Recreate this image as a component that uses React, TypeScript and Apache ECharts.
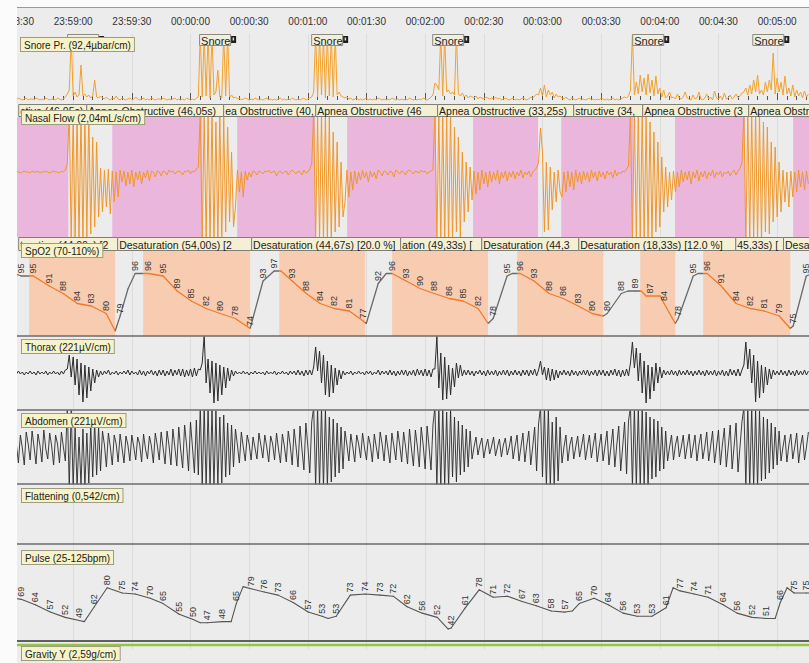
import React, { useEffect, useRef } from "react";
import * as echarts from "echarts";

// ---------- time axis (seconds relative to 00:00:00, negative = before midnight) ----------
const timeMin = -90;
const timeMax = 316.3;
const tickSeconds = 30;
const sampleStep = 1; // seconds between waveform samples

// ---------- waveform chunks: [start second, samples every sampleStep] ----------
const snoreChunks: [number, number[]][] = [
  [-90, [1,0,2,1,0,1,2,0,1,1,0,2,1,0,1,0,2,1,0,1,1,0,2,1,0,1,3]],
  [-63, [6,10,62,4,8,3,5,35,4,6,3,5,2,4,20,3,2,4]],
  [-45, [2,1,3,1,0,2,1,4,1,0,2,1,0,1,2,0,1,3,1,0,1,2,0,1,0,2,1,0,1,1,0,2,1,0,1,0,1,2,0,1,0,1,0,2,1,0,1,0,2,3]],
  [5, [66,3,66,4,66,2,66,5,8,30,3,2,66,4,66,3,5,2]],
  [23, [3,1,2,0,1,2,1,0,1,0,2,1,0,1,0,1,2,0,1,0,1,0,1,2,0,1,0,1,0,2,1,0,1,0,1,2,0,1,2,3]],
  [63, [8,66,3,66,5,66,2,66,4,66,3,66,5,8,4,3]],
  [79, [2,3,1,2,0,1,2,0,1,0,1,2,0,1,0,1,0,2,1,0,1,0,1,0,2,1,0,1,0,1,0,1,0,2,1,0,1,0,1,0,2,1,0,1,3,5]],
  [125, [17,15,10,66,4,66,8,10,6,8,5,66,6,4,7,3,5,2,4]],
  [144, [3,2,4,1,3,2,1,3,2,1,2,1,3,1,2,0,1,2,1,0,1,2,0,1,0,1,2,1,0,1,3,2,4,6,5]],
  [179, [12,4,15,3,10,5,8,2,6,3,4]],
  [190, [2,1,3,1,0,2,1,0,1,2,0,1,0,1,2,0,1,0,1,0,2,1,0,1,0,1,2,0,1,0,1,2,3,2,4]],
  [225, [10,66,5,18,6,25,8,22,5,26,7,20,4,24,6,12,3,10,2]],
  [244, [4,8,2,3,1,6,2,1,3,8,2,1,0,5,1,2,8,1,0,2,6,1,3,0,9,2,1,4,0,7,1,2,5,1,3,6,2,4,7]],
  [283, [8,12,5,15,6,20,8,25,6,10,5,18,8,20,10,47,6,22,8]],
  [302, [18,5,24,6,12,4,15,3,10,4,8,2,9,3,6]],
];

const nasalChunks: [number, number[]][] = [
  [-90, [0,1,0,-1,0,1,0,0,-1,1,0,0,1,-1,0,0,1,0,-1,0,1,0,0,-1,1,0,2]],
  [-63, [8,60,-70,60,-70,60,-70,60,-70,58,-65,60,-62,35,-55,30,-45,4]],
  [-45, [-40,2,-35,3,-42,1,-30,0,-25,2]],
  [-35, [-10,1,-14,0,-12,2,-15,0,-8,1,-12,0,-6,2,-9,1,0,-5,1,0,-4,1,0,-3,2,0,1,-2,0,1,0,-3,1,0,2,-2,1,0,3,5]],
  [5, [60,-70,60,-70,60,-70,60,-70,50,-70,60,-70,55,-60,45,-50,20,-55]],
  [23, [-35,2,-20,0,-25,1,-8,0,-5,1,0,-3,1,0,-2,1,0,2,-1,0,1,-4,0,1,-2,0,1,-3,0,2,0,-2,1,0,-3,2,-1,0,3,8]],
  [63, [60,-70,60,-70,60,-70,60,-70,55,-70,40,-60,30,-55,10,-45]],
  [79, [-30,2,-25,0,-18,1,-12,0,-8,2,-6,0,-10,1,-5,0,-7,2,0,-4,1,0,-3,1,0,-5,2,0,-2,1,0,-3,1,2,0,-2,1,0,-1,2,0,1,-2,0,1,2]],
  [125, [60,-70,60,-70,60,-70,55,-70,60,-70,45,-60,35,-65,20,-50,10,-40,5]],
  [144, [-28,1,-22,0,-18,2,-12,0,-15,1,-10,0,-8,2,-12,0,-6,1,-9,0,-5,1,-7,0,-4,2,-6,0,-3,1,-5,0,2,4,10]],
  [179, [44,20,-60,10,-58,5,-38,0,-30,2,-20]],
  [190, [-25,0,-20,1,-15,0,-18,2,-10,0,-12,1,-8,0,-10,2,-6,0,-9,1,-5,0,-7,1,-3,0,-6,2,-4,0,-2,1,0,3,6]],
  [225, [60,-70,60,-70,60,-70,60,-70,55,-70,50,-65,40,-60,30,-55,15,-40,5]],
  [244, [-35,0,-28,1,-20,0,-15,2,-10,0,-8,1,-12,0,-6,2,-9,0,-5,1,-7,0,-4,2,-6,0,-3,1,-5,0,-2,1,-4,0,2,-3,1,4,9]],
  [283, [60,-70,60,-70,60,-70,60,-70,58,-70,50,-60,45,-62,30,-50,25,-45,10]],
  [302, [-40,2,-30,0,-35,1,-25,0,-20,2,-15,0,-18,1,-12]],
];

const thoraxChunks: [number, number[]][] = [
  [-90, [1,-1,2,-1,1,-2,1,-1,2,-1,1,-2,2,-1,1,-1,2,-2,1,-1,2,-1,1,-2,2,-1,3]],
  [-63, [4,18,-4,16,-12,14,-22,10,-29,8,-25,6,-18,4,-10,3,-4,2]],
  [-45, [-2,2,-1,3,-2,1,-1,2,-2,1,-1,2,-1,3,-2,2,-1,1,-2,3,-2,2,-3,2,-1,3,-2,2,-3,3,-2,3,-3,2,-2,4,-3,3,-2,4,-3,4,-4,3,-3,4,-4,5,-3,4]],
  [5, [3,10,38,-10,14,-20,12,-30,10,-28,8,-22,6,-15,5,-8,3,-3]],
  [23, [2,-1,1,-1,2,-1,1,-2,1,-1,2,-1,1,-1,1,-2,2,-1,1,-1,2,-2,1,-1,2,-1,1,-2,2,-1,2,-2,3,-2,2,-3,3,-2,3,-2]],
  [63, [6,26,2,22,-10,18,-22,12,-24,8,-20,5,-12,3,-6,2]],
  [79, [-2,1,-1,2,-2,1,-1,2,-1,1,-2,2,-1,2,-2,1,-1,3,-2,2,-1,2,-2,3,-2,2,-3,2,-2,3,-2,3,-3,2,-2,3,-3,4,-2,3,-3,4,-3,3,-4,4]],
  [125, [4,37,-15,20,-27,16,-26,8,-22,5,-14,10,-5,8,-3,3]],
  [141, [-2,3,-2,2,-3,2,-1,3,-2,2,-3,3,-2,2,-2,3,-3,2,-2,3,-2,3,-3,2,-2,3,-2,2,-3,3,-2,3,-3,3,-2,4,-3,3]],
  [179, [12,-2,6,-7,5,-8,4,-7,3,-5,2]],
  [190, [-2,3,-2,2,-3,3,-2,2,-3,2,-2,3,-2,3,-3,2,-2,3,-3,3,-2,3,-3,2,-3,3,-2,4,-3,3,-4,3,-3,4,-3]],
  [225, [10,31,5,25,-8,20,-20,12,-30,8,-26,6,-18,10,-10,6,-5,3,-2]],
  [244, [2,-2,3,-2,2,-3,3,-2,2,-2,3,-2,2,-3,2,-2,3,-2,2,-3,3,-2,2,-2,3,-3,2,-2,3,-3,2,-3,4,-2,3,-3,4,-3,3]],
  [283, [8,31,4,24,-10,18,-29,12,-25,8,-20,6,-12,4,-6,3,-2]],
  [300, [2,-2,3,-2,2,-3,3,-2,2,-3,3,-2,2,-2,3,-2,2]],
];

const abdomenChunks: [number, number[]][] = [
  [-90, [14,2,-16,12,-1,-18,15,3,-13,16,0,-17,13,2,-15,17,-2,-12,14,1,-18,12,3,-16,15,0,-14]],
  [-63, [40,-40,38,-40,20,-40,10,-38,18,-40,14,-36,22,-30,25,-28,20,-24]],
  [-45, [16,2,-20,14,0,-18,12,3,-15,13,-1,-16,11,2,-14,12,0,-13,10,3,-15,13,-2,-12,11,1,-16,14,2,-13,15,-1,-17,16,2,-18,18,0,-19,20,-3,-21,22,2,-24,25,0,-26,27,-28]],
  [5, [40,-40,40,-40,40,-40,38,-40,36,-38,30,-36,32,-30,24,-28,22,-20]],
  [23, [18,2,-16,15,0,-14,12,3,-13,10,-1,-12,14,2,-11,12,0,-15,11,3,-13,14,-2,-16,13,1,-15,16,2,-18,18,0,-20,21,-2,-23,24,1,-26,25]],
  [63, [40,-40,40,-40,40,-40,38,-40,30,-35,28,-30,24,-26,20,-22]],
  [79, [16,2,-14,13,0,-15,12,3,-11,14,-1,-13,11,2,-15,13,0,-12,15,3,-14,12,-2,-16,14,1,-13,16,2,-15,15,0,-17,18,-2,-19,17,1,-20,20,2,-22,21,0,-23,22]],
  [125, [40,-40,40,-40,40,-38,35,-40,38,-30,30,-35,26,-28,22,-25,18,-20,16]],
  [144, [-12,0,10,-8,2,9,-11,0,8,-7,1,10,-9,0,8,-10,2,9,-8,0,11,-12,1,12,-14,0,14,-15,2,16,-18,0,20,-24,23]],
  [179, [40,-30,40,-40,38,-40,25,-38,30,-34,20]],
  [190, [-16,0,12,-14,2,10,-12,0,11,-10,1,13,-13,0,12,-11,2,14,-15,0,13,-14,1,16,-18,0,18,-20,2,21,-24,0,25,-27,26]],
  [225, [40,-40,40,-40,40,-40,40,-38,35,-40,30,-32,28,-30,26,-24,20,-22,16]],
  [244, [-14,0,12,-13,2,11,-10,0,12,-12,1,13,-11,0,12,-14,2,13,-12,0,15,-14,1,16,-16,0,17,-18,2,19,-20,0,22,-22,1,24,-25,0,25]],
  [283, [40,-40,40,-40,40,-40,38,-40,36,-34,30,-32,28,-26,24,-22,20,-18,16]],
  [302, [-14,0,12,-15,2,13,-12,0,14,-16,1,12,-13,0,15]],
];

// ---------- SpO2 (%) ----------
const spo2Times = [-90,-86.6,-82.5,-80.4,-72.2,-65.1,-57.9,-50.8,-43.1,-38.5,-36.0,-31.9,-28.3,-24.2,-21.6,-14.0,-6.8,0.4,8.0,15.2,22.9,30.5,37.1,42.8,46.3,52.0,59.2,66.3,73.5,81.2,88.3,89.9,96.0,100.1,103.1,110.3,117.4,124.6,132.3,139.4,147.1,152.2,154.8,161.9,164.5,168.6,175.7,183.4,190.6,198.3,205.4,211.1,213.1,220.3,223.8,227.4,230.5,233.0,235.1,240.2,242.2,247.9,249.4,257.1,259.6,264.2,271.4,279.0,286.2,293.4,301.1,306.7,308.2,314.9,318.0];
const spo2Values = [96,95,95,95,91,88,84,83,80,73,79,90,96,96,96,95,89,85,82,80,78,74,93,97,97,93,88,84,82,81,77,76,92,96,96,93,90,88,86,85,82,76,78,95,96,96,93,88,86,83,80,79,80,88,89,89,89,87,87,87,84,76,78,95,96,96,91,84,82,81,79,74,75,95,96];
const spo2Labeled = [0,1,0,1,1,1,1,1,1,0,1,0,1,0,1,1,1,1,1,1,1,1,1,1,0,1,1,1,1,1,1,0,1,0,1,1,1,1,1,1,1,0,1,1,0,1,1,1,1,1,1,0,1,1,0,1,0,0,1,0,1,0,1,1,0,1,1,1,1,1,1,0,1,1,0];

// ---------- Pulse (bpm) ----------
const pulseTimes = [-90,-86.6,-79.4,-71.7,-64.1,-56.9,-54.3,-49.2,-42.6,-34.9,-28.3,-20.6,-14.0,-5.8,1.4,5.0,8.5,16.2,20.8,23.4,26.9,31.0,37.7,44.8,52.5,60.2,67.3,70.4,74.5,81.7,89.3,97.0,103.6,110.8,118.5,126.2,131.8,133.3,140.5,147.6,154.8,162.0,169.6,176.8,184.5,191.6,195.2,198.8,206.4,213.6,221.2,228.4,236.0,243.2,246.8,250.4,257.6,264.7,272.4,279.5,287.2,294.4,299.0,301.6,305.1,308.7,314.9,318.0];
const pulseValues = [70,69,64,57,52,49,48,62,80,75,74,70,65,55,50,47,47,48,48,65,81,79,76,73,66,57,53,51,53,73,74,73,72,62,56,52,41,42,61,78,71,72,67,63,58,57,58,65,70,64,56,53,53,61,80,77,74,71,64,56,52,51,51,66,80,75,75,75];
const pulseLabeled = [0,1,1,1,1,1,0,1,1,1,1,1,1,1,1,0,1,1,0,1,0,1,1,1,1,1,1,0,1,1,1,1,1,1,1,1,0,1,1,1,1,1,1,1,1,1,0,1,1,1,1,1,1,1,0,1,1,1,1,1,1,1,0,1,0,1,1,0];

// ---------- Gravity Y ----------
const gravityTimes = [-90, 318];
const gravityValues = [1, 1];

// ---------- events ----------
const apneaEvents: [number, number][] = [[-108.5,-62.5],[-40,6.05],[23.9,63.8],[80.1,125.6],[144.5,177.75],[189.6,226.4],[247.8,283.6],[308.2,354.2]];
const apneaLabelTimes = [-88.1,-53.3,16.7,63.8,126.1,195.7,231.0,285.2];
const apneaLabelTexts = ["ctive (46,05s)","Apnea Obstructive (46,05s)","ea Obstructive (40,","Apnea Obstructive (46","Apnea Obstructive (33,25s)","structive (34,","Apnea Obstructive (36,","Apnea Obstructive (36,05s)"];

const desatEvents: [number, number][] = [[-82.5,-38.5],[-24.2,30.5],[45.4,89.3],[103.1,152.2],[167.1,211.1],[230.0,247.9],[262.2,306.7]];
const desatLabelTimes = [-88.1,-37.5,31.0,107.2,148.7,198.3,278.6,303.0];
const desatLabelTexts = ["turation (44,00s) [2","Desaturation (54,00s) [2","Desaturation (44,67s) [20.0 %]","ation (49,33s) [","Desaturation (44,3","Desaturation (18,33s) [12.0 %]","45,33s) [","Desaturation (40,00s)"];

const snoreEventTimes = [-63.1, 4.4, 61.7, 123.6, 225.9, 287.3];

const channelNames = ["Snore Pr. (92,4µbar/cm)","Nasal Flow (2,04mL/s/cm)","SpO2 (70-110%)","Thorax (221µV/cm)","Abdomen (221µV/cm)","Flattening (0,542/cm)","Pulse (25-125bpm)","Gravity Y (2,59g/cm)"];

// ---------- helpers ----------
const FONT = '"Liberation Sans", Arial, Helvetica, sans-serif';
const expand = (chunks: [number, number[]][]) =>
  chunks.flatMap(([t0, vals]) => vals.map((v, k) => [t0 + k * sampleStep, v]));
const pad = (n: number) => (n < 10 ? "0" : "") + n;
const hms = (v: number) => {
  let s = Math.round(v);
  if (s < 0) s += 86400;
  return pad(Math.floor(s / 3600)) + ":" + pad(Math.floor((s % 3600) / 60)) + ":" + pad(s % 60);
};

function buildOption() {
  const gridDefs = [
    [34, 70], [104, 13], [117, 120], [237, 14], [251, 85],
    [337, 72], [411, 73], [485, 59], [540, 106], [640, 10],
  ];
  const yRanges = [
    [-4, 66], [0, 1], [-65, 55], [0, 1], [71, 105],
    [-36, 36], [-37, 36], [0, 1], [25, 125], [0, 2],
  ];
  const grid = gridDefs.map(([top, height]) => ({
    left: 14.5, right: 0, top, height, containLabel: false, outerBoundsMode: "none",
  }));
  const xAxis = gridDefs.map((_, i) => ({
    type: "value", gridIndex: i, min: timeMin, max: timeMax, interval: tickSeconds,
    position: "top", show: i !== 1 && i !== 3,
    axisLine: { show: false },
    axisTick: { show: i === 0, length: 7, lineStyle: { color: "#555" } },
    minorTick: { show: i === 0, splitNumber: 6, length: 4, lineStyle: { color: "#555" } },
    axisLabel: { show: i === 0, margin: 8, fontSize: 10, color: "#333", fontFamily: FONT, formatter: hms, showMaxLabel: false },
    splitLine: { show: true, lineStyle: { color: "#dcdcdc", width: 1 } },
    minorSplitLine: { show: false },
  }));
  const yAxis = yRanges.map(([min, max], i) => ({ type: "value", gridIndex: i, min, max, show: false }));

  const line = (grid: number, data: any[], color: string, width = 1) => ({
    type: "line", xAxisIndex: grid, yAxisIndex: grid, data, symbol: "none", showSymbol: false,
    lineStyle: { color, width }, itemStyle: { color }, z: 3, silent: true, clip: true,
  });

  const bands = (grid: number, events: [number, number][], color: string) => ({
    type: "custom", xAxisIndex: grid, yAxisIndex: grid, z: 1, silent: true,
    data: events,
    renderItem: (params: any, api: any) => {
      const cs = params.coordSys;
      const x0 = api.coord([api.value(0), 0])[0];
      const x1 = api.coord([api.value(1), 0])[0];
      return { type: "rect", shape: { x: x0, y: cs.y, width: x1 - x0, height: cs.height }, style: { fill: color } };
    },
  });

  const labelRow = (grid: number, times: number[], texts: string[]) => ({
    type: "custom", xAxisIndex: grid, yAxisIndex: grid, z: 6, silent: true,
    data: times.map((t, i) => [t, i]),
    renderItem: (params: any, api: any) => {
      const cs = params.coordSys;
      const i = params.dataIndex;
      const x = api.coord([api.value(0), 0])[0];
      const nx = i + 1 < times.length ? api.coord([times[i + 1], 0])[0] : cs.x + cs.width + 5;
      const w = nx - x;
      return {
        type: "group",
        children: [
          { type: "rect", shape: { x: x + 0.5, y: cs.y + 0.5, width: w, height: cs.height - 1 }, style: { fill: "#f4f0d4", stroke: "#807f74", lineWidth: 1 } },
          { type: "text", style: { text: texts[i], x: x + 2, y: cs.y + cs.height / 2 + 0.5, verticalAlign: "middle", align: "left", font: "10.5px " + FONT, fill: "#1c1c1c", width: Math.max(w - 2, 1), overflow: "truncate", ellipsis: "" } },
        ],
      };
    },
  });

  const valueLabel = { show: false, position: "top", distance: 2, rotate: 90, align: "left", verticalAlign: "middle", fontSize: 9, color: "#333", fontFamily: FONT };

  const spo2Data = spo2Times.map((t, i) => ({ value: [t, spo2Values[i]], label: { show: spo2Labeled[i] === 1 } }));
  const pulseData = pulseTimes.map((t, i) => ({ value: [t, pulseValues[i]], label: { show: pulseLabeled[i] === 1 } }));

  const series: any[] = [
    line(0, expand(snoreChunks), "#f3a12c"),                       // 0
    bands(2, apneaEvents, "#eab6dc"),                              // 1
    line(2, expand(nasalChunks), "#f0972a"),                       // 2
    labelRow(1, apneaLabelTimes, apneaLabelTexts),                 // 3
    bands(4, desatEvents, "#f8ccb0"),                              // 4
    {                                                             // 5 SpO2
      type: "line", xAxisIndex: 4, yAxisIndex: 4, data: spo2Data, symbol: "circle", symbolSize: 1,
      showSymbol: true, showAllSymbol: true, lineStyle: { width: 1.3 }, z: 3, silent: true, label: valueLabel,
    },
    labelRow(3, desatLabelTimes, desatLabelTexts),                 // 6
    line(5, expand(thoraxChunks), "#2b2b2b"),                      // 7
    line(6, expand(abdomenChunks), "#2a2a2a", 0.9),                // 8
    {                                                             // 9 Pulse
      type: "line", xAxisIndex: 8, yAxisIndex: 8, data: pulseData, symbol: "circle", symbolSize: 1,
      showSymbol: true, showAllSymbol: true, lineStyle: { width: 1.1, color: "#555" }, itemStyle: { color: "#555" },
      z: 3, silent: true, label: valueLabel,
    },
    line(9, gravityTimes.map((t, i) => [t, gravityValues[i]]), "#93c73f", 2.5), // 10
    {                                                             // 11 snore events
      type: "custom", xAxisIndex: 0, yAxisIndex: 0, z: 6, silent: true,
      data: snoreEventTimes.map((t) => [t]),
      renderItem: (params: any, api: any) => {
        const cs = params.coordSys;
        const x = api.coord([api.value(0), 0])[0];
        const y = cs.y;
        return {
          type: "group",
          children: [
            { type: "rect", shape: { x: x + 0.5, y: y + 0.5, width: 31, height: 11 }, style: { fill: "#f1efdf", stroke: "#8c8b7e", lineWidth: 1 } },
            { type: "text", style: { text: "Snore", x: x + 2, y: y + 6.5, verticalAlign: "middle", align: "left", font: "11px " + FONT, fill: "#222" } },
            { type: "rect", shape: { x: x + 32, y: y + 2, width: 5, height: 7 }, style: { fill: "#1e1e1e" } },
            { type: "rect", shape: { x: x + 33.5, y: y + 3.5, width: 1.5, height: 3 }, style: { fill: "#dddddd" } },
          ],
        };
      },
    },
  ];

  const labelTops = [38, 111, 244, 340, 414, 489, 551, 647];
  const labelLefts = [21, 22, 22, 22, 22, 22, 22, 22];
  const sepYs = [336, 410, 484, 544];

  const graphic: any[] = [
    ...sepYs.map((y) => ({ type: "line", z: 100, silent: true, shape: { x1: 17, y1: y, x2: 809, y2: y }, style: { stroke: "#6b6b6b", lineWidth: 1.5 } })),
    { type: "line", z: 100, silent: true, shape: { x1: 17, y1: 641, x2: 809, y2: 641 }, style: { stroke: "#5f5f5f", lineWidth: 2 } },
    ...channelNames.map((name, i) => ({
      type: "text", z: 110, silent: true, x: labelLefts[i], y: labelTops[i],
      style: { text: name, font: "10px " + FONT, fill: "#222", align: "left", verticalAlign: "top", backgroundColor: "#f6f3c8", borderColor: "#9d9b82", borderWidth: 1, padding: [2, 3, 1, 3] },
    })),
    { type: "rect", z: 200, silent: true, shape: { x: 0, y: 0, width: 17, height: 663 }, style: { fill: "#fbfbfb" } },
    { type: "rect", z: 200, silent: true, shape: { x: 0, y: 0, width: 809, height: 7 }, style: { fill: "#fbfbfb" } },
    { type: "line", z: 201, silent: true, shape: { x1: 17, y1: 7.5, x2: 809, y2: 7.5 }, style: { stroke: "#9a9a9a", lineWidth: 1 } },
  ];

  return {
    animation: false,
    backgroundColor: "#ececec",
    textStyle: { fontFamily: FONT },
    grid, xAxis, yAxis, series, graphic,
    visualMap: [{
      type: "piecewise", show: false, seriesIndex: 5, dimension: 0,
      pieces: desatEvents.map(([s, e]) => ({ gte: s, lte: e, color: "#f07a2c" })),
      outOfRange: { color: "#6a6a6a" },
    }],
  };
}

export default function App() {
  const ref = useRef<HTMLDivElement>(null);
  useEffect(() => {
    if (!ref.current) return;
    const chart = echarts.init(ref.current, null, { renderer: "svg" });
    chart.setOption(buildOption() as any);
    return () => chart.dispose();
  }, []);
  return <div ref={ref} style={{ position: "absolute", left: 0, top: 0, width: 809, height: 663 }} />;
}
